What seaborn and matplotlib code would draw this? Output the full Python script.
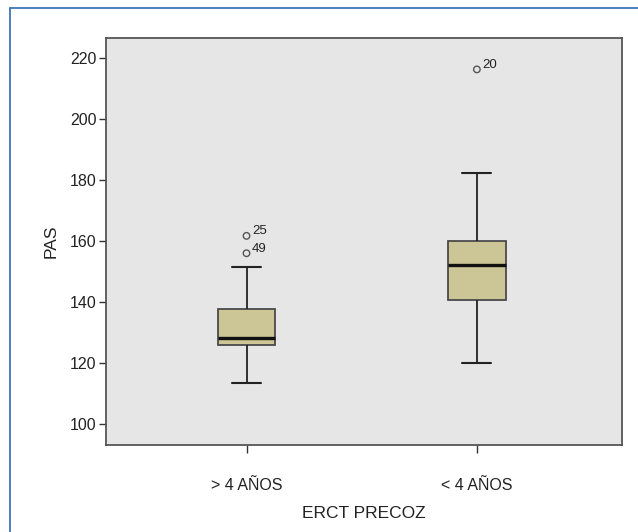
import matplotlib
matplotlib.use("Agg")
import matplotlib.pyplot as plt
from matplotlib.lines import Line2D
import seaborn as sns
import pandas as pd

# Group summaries of systolic pressure (PAS) by early ERCT status
groups = ["> 4 AÑOS", "< 4 AÑOS"]
whisker_low = [113.3, 120.0]
q1 = [126.0, 140.6]
median = [128.1, 152.3]
q3 = [137.8, 159.9]
whisker_high = [151.6, 182.2]

# Outlying cases with their case numbers
outlier_group = ["> 4 AÑOS", "> 4 AÑOS", "< 4 AÑOS"]
outlier_value = [161.7, 156.0, 216.3]
outlier_case = ["25", "49", "20"]

y_ticks = [100, 120, 140, 160, 180, 200, 220]

# Five-number rows per group; with whis=(0, 100) the whiskers reach min/max
rows = []
for g, lo, a, m, b, hi in zip(groups, whisker_low, q1, median, q3, whisker_high):
    for v in (lo, a, m, b, hi):
        rows.append({"ERCT PRECOZ": g, "PAS": v})
df = pd.DataFrame(rows)

sns.set_theme(style="white")
plt.rcParams["font.family"] = ["Liberation Sans", "DejaVu Sans"]

fig = plt.figure(figsize=(6.38, 5.32), dpi=100)
ax = fig.add_axes([106 / 638, 1 - 445 / 532, (622 - 106) / 638, (445 - 38) / 532])
ax.set_facecolor("#e6e6e6")

sns.boxplot(
    data=df, x="ERCT PRECOZ", y="PAS", order=groups, ax=ax,
    whis=(0, 100), width=0.25, color="#ccc596", saturation=1,
    linewidth=1.3, linecolor="#4a4a4a",
    medianprops={"color": "#111111", "linewidth": 2.4},
    whiskerprops={"color": "#222222", "linewidth": 1.3},
    capprops={"color": "#222222", "linewidth": 1.5},
    showfliers=False,
)

ox = [groups.index(g) for g in outlier_group]
sns.scatterplot(x=ox, y=outlier_value, ax=ax, marker="o", s=22,
                facecolor="none", edgecolor="#555555", linewidth=1.0, zorder=5)
for x, y, c in zip(ox, outlier_value, outlier_case):
    ax.annotate(c, (x, y), xytext=(4, -1), textcoords="offset points",
                ha="left", va="bottom", fontsize=9.5, color="#222222")

ax.set_xlim(-0.61, 1.63)
ax.set_ylim(93.1, 226.6)
ax.set_yticks(y_ticks)
ax.set_yticklabels([str(t) for t in y_ticks])

for s in ax.spines.values():
    s.set_color("#555555")
    s.set_linewidth(1.3)

ax.tick_params(axis="y", direction="out", length=5, width=1, color="#333333",
               pad=2, labelsize=11.5, labelcolor="#222222", left=True)
ax.tick_params(axis="x", direction="out", length=6, width=1, color="#333333",
               pad=18, labelsize=11.5, labelcolor="#222222", bottom=True)

ax.set_xlabel("ERCT PRECOZ", fontsize=12.5, color="#222222", labelpad=9)
ax.set_ylabel("PAS", fontsize=12.5, color="#222222", labelpad=8)

# Blue frame along the top and left edges
blue = "#3d74bd"
fig.add_artist(Line2D([10 / 638, 1], [1 - 7.5 / 532, 1 - 7.5 / 532],
                      transform=fig.transFigure, color=blue, linewidth=1.3))
fig.add_artist(Line2D([10 / 638, 10 / 638], [0, 1 - 7.5 / 532],
                      transform=fig.transFigure, color=blue, linewidth=1.3))

fig.savefig("out.png", dpi=100, facecolor="white")
